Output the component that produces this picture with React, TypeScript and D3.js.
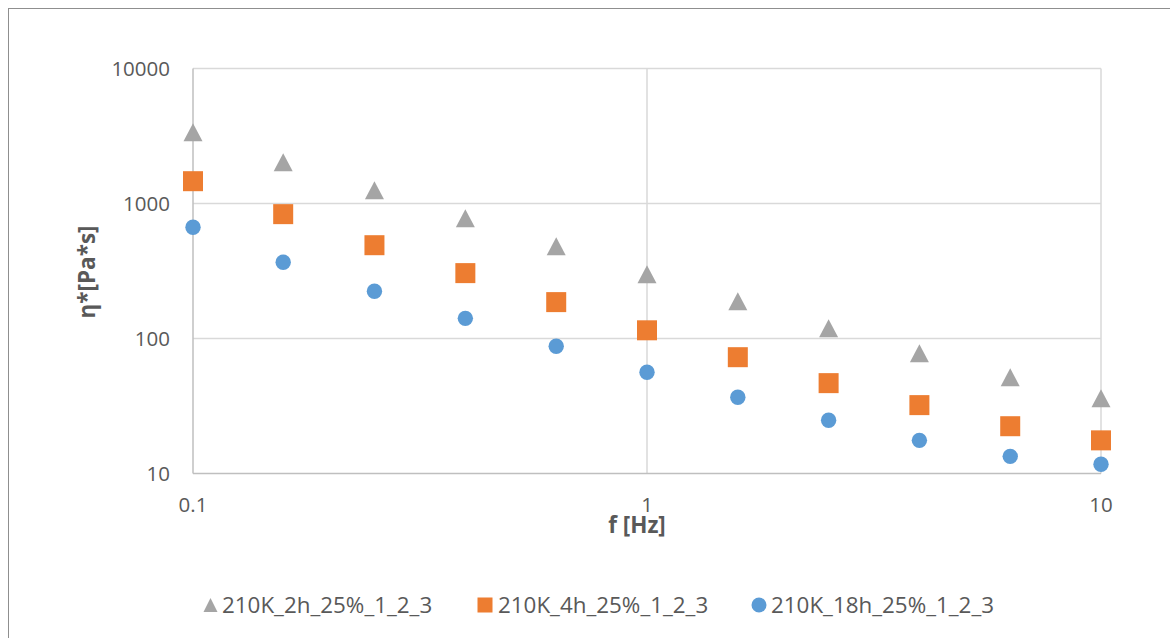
import React from "react";
import * as d3 from "d3";

const freqs = [0.1, 0.158, 0.251, 0.398, 0.631, 1, 1.585, 2.512, 3.981, 6.31, 10];
const series2h = [3375, 2023, 1256, 778, 483, 299, 189, 119, 77.8, 51.7, 36.1];
const series4h = [1463, 834, 491, 305, 186, 115, 72.7, 46.7, 32.1, 22.4, 17.6];
const series18h = [667, 367, 224, 141, 87.7, 56.3, 36.7, 24.8, 17.6, 13.4, 11.7];
const seriesNames = ["210K_2h_25%_1_2_3", "210K_4h_25%_1_2_3", "210K_18h_25%_1_2_3"];
const xTicks = [0.1, 1, 10];
const yTicks = [10, 100, 1000, 10000];

const W = 1170;
const H = 638;
const FONT = "'Open Sans', 'Liberation Sans', sans-serif";
const TXT = "#595959";
const GRAY = "#A5A5A5";
const ORANGE = "#ED7D31";
const BLUE = "#5B9BD5";

function tri(cx: number, cy: number, w: number, h: number) {
  return `M${cx},${cy - h / 2}L${cx + w / 2},${cy + h / 2}L${cx - w / 2},${cy + h / 2}Z`;
}

export default function App() {
  const x = d3.scaleLog().domain([0.1, 10]).range([193, 1101]);
  const y = d3.scaleLog().domain([10, 10000]).range([473.5, 68.5]);
  const fmt = (v: number) => String(v);

  return (
    <svg
      width={W}
      height={H}
      style={{ position: "absolute", left: 0, top: 0, background: "#fff" }}
      fontFamily={FONT}
    >
      <rect x={0} y={0} width={W} height={H} fill="#fff" />
      <rect x={8.5} y={8.5} width={1300} height={800} fill="none" stroke="#8F8F8F" strokeWidth={1} />

      {/* grid */}
      {yTicks.filter((t) => t > 10).map((t) => (
        <line key={"gy" + t} x1={x(0.1)} x2={x(10)} y1={y(t)} y2={y(t)} stroke="#D9D9D9" strokeWidth={1.5} />
      ))}
      {xTicks.filter((t) => t > 0.1).map((t) => (
        <line key={"gx" + t} x1={x(t)} x2={x(t)} y1={y(10)} y2={y(10000)} stroke="#D9D9D9" strokeWidth={1.5} />
      ))}
      {/* axes */}
      <line x1={x(0.1)} x2={x(0.1)} y1={y(10)} y2={y(10000)} stroke="#BFBFBF" strokeWidth={1.5} />
      <line x1={x(0.1)} x2={x(10)} y1={y(10)} y2={y(10)} stroke="#BFBFBF" strokeWidth={1.5} />

      {/* tick labels */}
      {yTicks.map((t) => (
        <text key={"yl" + t} x={170} y={y(t)} dy="0.36em" textAnchor="end" fontSize={20.5} fill={TXT}>
          {fmt(t)}
        </text>
      ))}
      {xTicks.map((t) => (
        <text key={"xl" + t} x={x(t)} y={512} textAnchor="middle" fontSize={20.5} fill={TXT}>
          {fmt(t)}
        </text>
      ))}

      {/* axis titles */}
      <text x={637} y={533} textAnchor="middle" fontSize={22.5} fontWeight="bold" fill={TXT}>
        f [Hz]
      </text>
      <text
        transform={`translate(95,272) rotate(-90)`}
        textAnchor="middle"
        fontSize={22.5}
        fontWeight="bold"
        fill={TXT}
      >
        η*[Pa*s]
      </text>

      {/* data */}
      {series2h.map((v, i) => (
        <path key={"a" + i} d={tri(x(freqs[i]), y(v), 19, 18)} fill={GRAY} />
      ))}
      {series4h.map((v, i) => (
        <rect key={"b" + i} x={x(freqs[i]) - 10} y={y(v) - 10} width={20} height={20} fill={ORANGE} />
      ))}
      {series18h.map((v, i) => (
        <circle key={"c" + i} cx={x(freqs[i])} cy={y(v)} r={7.7} fill={BLUE} />
      ))}

      {/* legend */}
      <path d={tri(210.5, 605, 14, 14)} fill={GRAY} />
      <text x={222} y={613} fontSize={22.4} fill={TXT}>{seriesNames[0]}</text>
      <rect x={477.5} y={597.5} width={15} height={15} fill={ORANGE} />
      <text x={498} y={613} fontSize={22.4} fill={TXT}>{seriesNames[1]}</text>
      <circle cx={759} cy={605} r={7.5} fill={BLUE} />
      <text x={771} y={613} fontSize={22.4} fill={TXT}>{seriesNames[2]}</text>
    </svg>
  );
}
